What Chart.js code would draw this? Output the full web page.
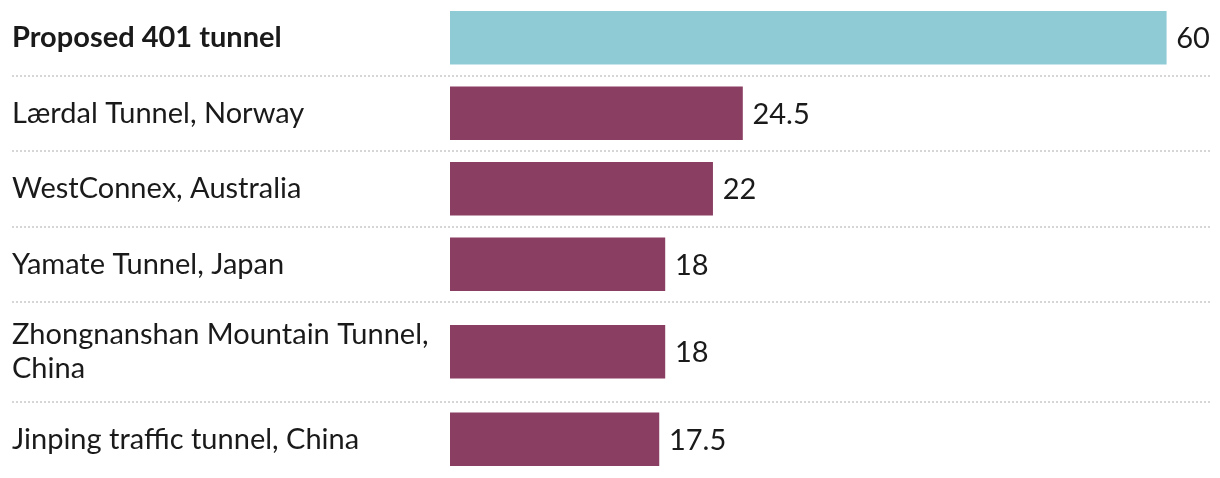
<!DOCTYPE html>
<html>
<head>
<meta charset="utf-8">
<script src="https://cdn.jsdelivr.net/npm/chart.js@4.4.1/dist/chart.umd.min.js"></script>
<style>
  html, body { margin: 0; padding: 0; background: #ffffff; }
  #wrap { position: relative; width: 1220px; height: 478px; }
</style>
</head>
<body>
<div id="wrap"><canvas id="c"></canvas></div>
<script>
// ---- data ----
const categories = [
  "Proposed 401 tunnel",
  "Lærdal Tunnel, Norway",
  "WestConnex, Australia",
  "Yamate Tunnel, Japan",
  ["Zhongnanshan Mountain Tunnel,", "China"],
  "Jinping traffic tunnel, China"
];
const lengthsKm = [60, 24.5, 22, 18, 18, 17.5];
const valueLabels = ["60", "24.5", "22", "18", "18", "17.5"];

// ---- layout (derived from label line counts) ----
const FONT = "Lato";
const FONT_SIZE = 29;
const ROW_BASE = 75.5;
const ROW_EXTRA_LINE = 24;
const lineCounts = categories.map(c => Array.isArray(c) ? c.length : 1);
const boundaries = [0];
lineCounts.forEach(n => boundaries.push(boundaries[boundaries.length - 1] + ROW_BASE + ROW_EXTRA_LINE * (n - 1)));
const centers = lineCounts.map((n, i) => (boundaries[i] + boundaries[i + 1]) / 2);
const totalHeight = boundaries[boundaries.length - 1];

const barColors = categories.map((c, i) => i === 0 ? "#8fcbd5" : "#8a3e62");

const separatorPlugin = {
  id: "separators",
  beforeDatasetsDraw(chart) {
    const ctx = chart.ctx;
    const y = chart.scales.y;
    ctx.save();
    ctx.strokeStyle = "#d6d6d6";
    ctx.lineWidth = 2;
    ctx.setLineDash([2, 2]);
    for (let i = 1; i < boundaries.length - 1; i++) {
      const py = Math.round(y.getPixelForValue(boundaries[i]));
      ctx.beginPath();
      ctx.moveTo(12, py);
      ctx.lineTo(1210, py);
      ctx.stroke();
    }
    ctx.restore();
  }
};

const valueLabelPlugin = {
  id: "valueLabels",
  afterDatasetsDraw(chart) {
    const ctx = chart.ctx;
    const meta = chart.getDatasetMeta(0);
    ctx.save();
    ctx.fillStyle = "#1a1a1a";
    ctx.font = `${FONT_SIZE}px ${FONT}`;
    ctx.textAlign = "left";
    ctx.textBaseline = "middle";
    meta.data.forEach((bar, i) => {
      ctx.fillText(valueLabels[i], bar.x + 10, bar.y + 1);
    });
    ctx.restore();
  }
};

new Chart(document.getElementById("c"), {
  type: "bar",
  data: {
    datasets: [{
      data: lengthsKm.map((v, i) => ({ x: v, y: centers[i] })),
      backgroundColor: barColors,
      borderWidth: 0,
      barThickness: 53
    }]
  },
  options: {
    indexAxis: "y",
    responsive: true,
    maintainAspectRatio: false,
    animation: false,
    layout: { autoPadding: false, padding: { left: 12, right: 6, top: 0, bottom: 478 - totalHeight } },
    plugins: { legend: { display: false }, tooltip: { enabled: false } },
    scales: {
      x: {
        type: "linear",
        display: false,
        min: 0,
        max: 64
      },
      y: {
        type: "linear",
        reverse: true,
        offset: false,
        min: 0,
        max: totalHeight,
        grid: { display: false, offset: false },
        border: { display: false },
        afterBuildTicks(scale) {
          scale.ticks = centers.map(v => ({ value: v }));
        },
        afterFit(scale) {
          scale.width = 438;
          scale.paddingTop = 0;
          scale.paddingBottom = 0;
        },
        ticks: {
          autoSkip: false,
          crossAlign: "far",
          padding: 0,
          color: "#1a1a1a",
          font: (ctx) => ({
            family: FONT,
            size: FONT_SIZE,
            weight: ctx.index === 0 ? "bold" : "normal",
            lineHeight: 1.15
          }),
          callback: (value, index) => categories[index]
        }
      }
    }
  },
  plugins: [separatorPlugin, valueLabelPlugin]
});
</script>
</body>
</html>
